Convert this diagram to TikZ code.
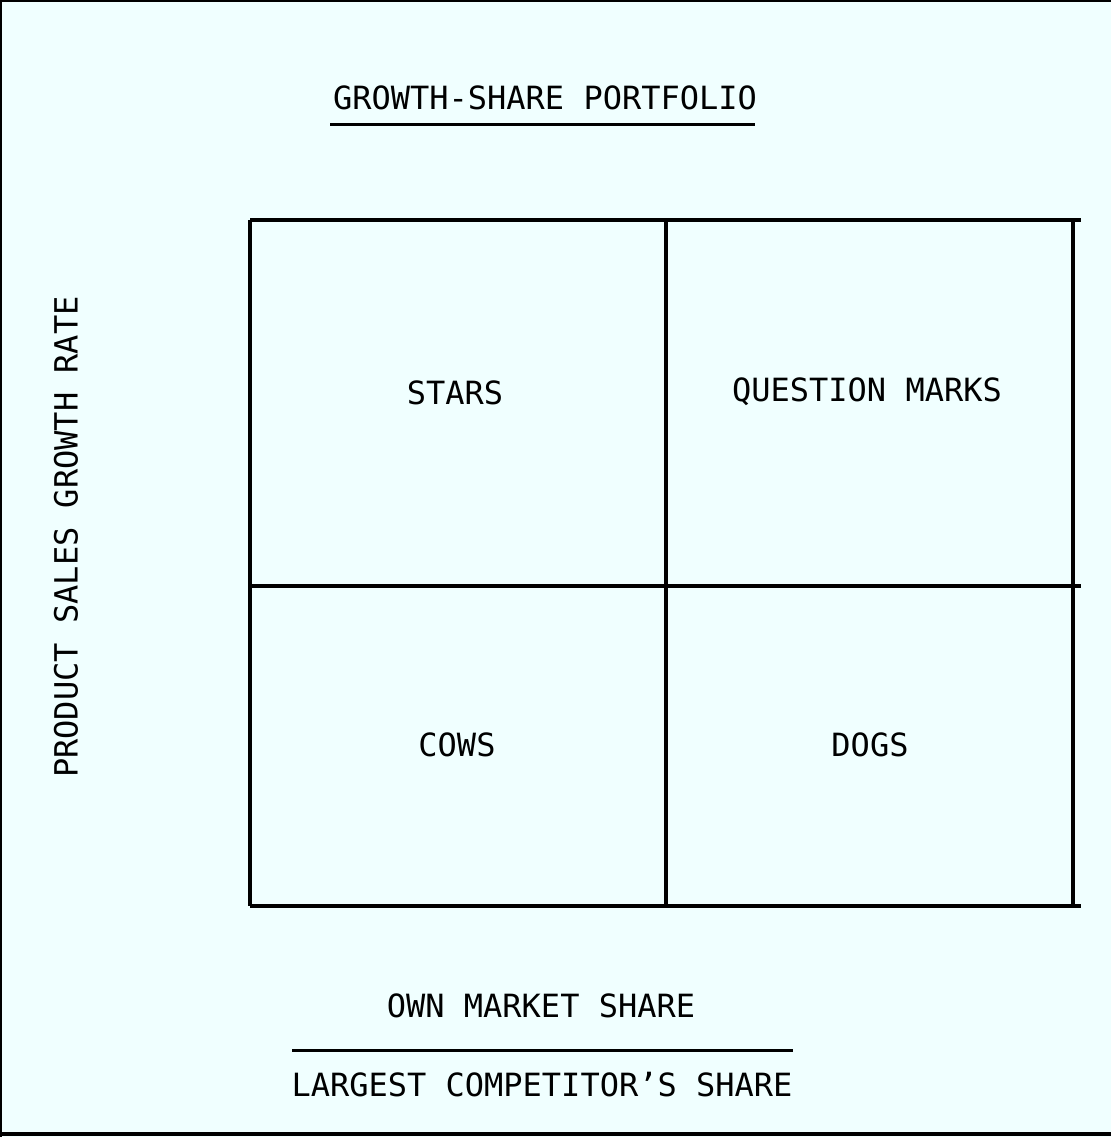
\documentclass[tikz,border=0pt]{standalone}
\usepackage{fontspec}
\newfontfamily\plotfont{DejaVu Sans Mono}
\definecolor{paper}{RGB}{240,255,255}
\begin{document}
\begin{tikzpicture}[x=0.5pt,y=-0.5pt,
  lbl/.style={font=\plotfont\fontsize{16}{18}\selectfont, inner sep=0pt, anchor=center},
  gridline/.style={line width=1.9pt, line cap=butt},
  frameline/.style={line width=1.2pt}]
\fill[paper] (0,0) rectangle (1111,1137);
\useasboundingbox (0,0) rectangle (1111,1137);
% outer frame
\draw[frameline] (1,1137) -- (1,0.6) -- (1111,0.6);
\draw[line width=1.8pt] (0,1134) -- (1111,1134);
% title
\node[lbl] (title) at (545,98) {GROWTH-SHARE PORTFOLIO};
\draw[line width=1.5pt] (330,124) -- (755,124);
% grid
\coordinate (tl) at (250,220);
\coordinate (tr) at (1081,220);
\coordinate (bl) at (250,906);
\coordinate (br) at (1081,906);
\draw[gridline] (tl) -- (tr);
\draw[gridline] (250,586) -- (1081,586);
\draw[gridline] (bl) -- (br);
\draw[gridline] (tl) -- (bl);
\draw[gridline] (666,220) -- (666,906);
\draw[gridline] (1073,220) -- (1073,906);
% quadrant labels
\node[lbl] (stars) at (455,393) {STARS};
\node[lbl] (qm) at (867,392) {QUESTION MARKS};
\node[lbl] (cows) at (457,745) {COWS};
\node[lbl] (dogs) at (870,745) {DOGS};
% axis labels
\node[lbl, rotate=90] (ylab) at (66,537) {PRODUCT SALES GROWTH RATE};
\node[lbl] (own) at (541,1006) {OWN MARKET SHARE};
\draw[line width=1.5pt] (292,1050) -- (793,1050);
\node[lbl] (largest) at (542,1085) {LARGEST COMPETITOR’S SHARE};
\end{tikzpicture}
\end{document}
